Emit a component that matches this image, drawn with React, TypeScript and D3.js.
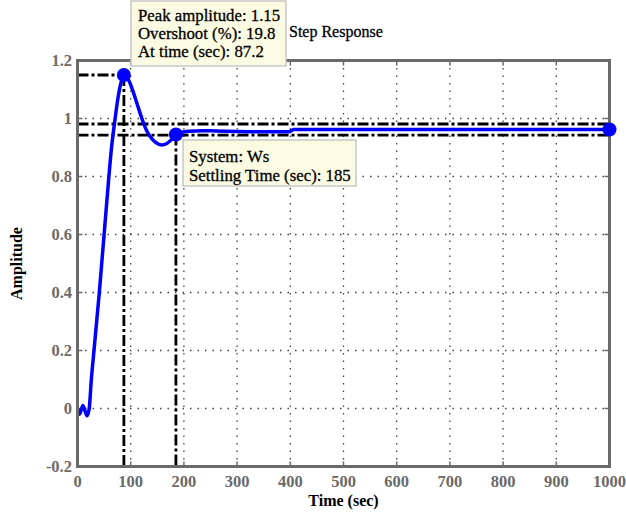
import React from "react";
import * as d3 from "d3";

const timeSec = [0, 4, 10, 18, 22, 26, 31, 36, 41, 45.5, 50, 54.5, 59, 64, 70, 76, 82, 87.2, 92, 98, 105, 113, 121, 130, 140, 150, 158, 168, 177, 185, 195, 210, 235, 260, 300, 350, 398, 406, 500, 600, 700, 800, 900, 1000];
const amplitude = [0, -0.02, 0.01, -0.025, 0.0, 0.1, 0.2, 0.3, 0.4, 0.5, 0.6, 0.7, 0.8, 0.9, 0.99, 1.07, 1.125, 1.15, 1.145, 1.125, 1.09, 1.045, 1.0, 0.958, 0.93, 0.914, 0.909, 0.914, 0.928, 0.945, 0.952, 0.956, 0.958, 0.957, 0.955, 0.954, 0.954, 0.962, 0.962, 0.962, 0.962, 0.962, 0.962, 0.962];

const xTicks = [0, 100, 200, 300, 400, 500, 600, 700, 800, 900, 1000];
const yTicks = [-0.2, 0, 0.2, 0.4, 0.6, 0.8, 1, 1.2];
const yTickLabels = ["-0.2", "0", "0.2", "0.4", "0.6", "0.8", "1", "1.2"];

const peak = { t: 87.2, v: 1.15, overshoot: 19.8 };
const settling = { t: 185, v: 0.945 };
const finalValue = 0.962;
const bandLow = 0.943;
const bandHigh = 0.981;

const peakLines = ["Peak amplitude: 1.15", "Overshoot (%): 19.8", "At time (sec): 87.2"];
const settleLines = ["System: Ws", "Settling Time (sec): 185"];

export default function App() {
  const W = 626, H = 514;
  const x = d3.scaleLinear().domain([0, 1000]).range([77.5, 609.5]);
  const y = d3.scaleLinear().domain([-0.2, 1.2]).range([466.5, 60.5]);
  const line = d3
    .line<number>()
    .x((_, i) => x(timeSec[i]))
    .y((d) => y(d))
    .curve(d3.curveMonotoneX);
  const font = "'Liberation Serif', 'Times New Roman', serif";
  const axisColor = "#6a6a6a";
  const gridDash = "1.5,6";
  const dashDot = "11,3,3,3";
  const [x0, x1] = x.range();
  const [y0, y1] = y.range();

  return (
    <svg
      width={W}
      height={H}
      style={{ position: "absolute", left: 0, top: 0, background: "#fff" }}
      fontFamily={font}
    >
      <rect x={0} y={0} width={W} height={H} fill="#fff" />
      {/* grid */}
      {xTicks.slice(1, -1).map((t) => (
        <line key={"gx" + t} x1={x(t)} x2={x(t)} y1={y1} y2={y0} stroke="#444" strokeWidth={1.3} strokeDasharray={gridDash} />
      ))}
      {yTicks.slice(1, -1).map((t) => (
        <line key={"gy" + t} x1={x0} x2={x1} y1={y(t)} y2={y(t)} stroke="#444" strokeWidth={1.3} strokeDasharray={gridDash} />
      ))}
      {/* ticks */}
      {xTicks.slice(1, -1).map((t) => (
        <g key={"tx" + t}>
          <line x1={x(t)} x2={x(t)} y1={y0} y2={y0 - 5} stroke={axisColor} strokeWidth={1.5} />
          <line x1={x(t)} x2={x(t)} y1={y1} y2={y1 + 5} stroke={axisColor} strokeWidth={1.5} />
        </g>
      ))}
      {yTicks.slice(1, -1).map((t) => (
        <g key={"ty" + t}>
          <line x1={x0} x2={x0 + 5} y1={y(t)} y2={y(t)} stroke={axisColor} strokeWidth={1.5} />
          <line x1={x1} x2={x1 - 5} y1={y(t)} y2={y(t)} stroke={axisColor} strokeWidth={1.5} />
        </g>
      ))}
      {/* characteristic lines */}
      <line x1={x0} x2={x(peak.t)} y1={y(peak.v)} y2={y(peak.v)} stroke="#000" strokeWidth={2.8} strokeDasharray={dashDot} />
      <line x1={x(peak.t)} x2={x(peak.t)} y1={y(peak.v)} y2={y0} stroke="#000" strokeWidth={2.8} strokeDasharray={dashDot} />
      <line x1={x(settling.t)} x2={x(settling.t)} y1={y(settling.v)} y2={y0} stroke="#000" strokeWidth={2.8} strokeDasharray={dashDot} />
      <line x1={x0} x2={x1} y1={y(bandHigh)} y2={y(bandHigh)} stroke="#000" strokeWidth={2.8} strokeDasharray={dashDot} />
      <line x1={x0} x2={x1} y1={y(bandLow)} y2={y(bandLow)} stroke="#000" strokeWidth={2.8} strokeDasharray={dashDot} />
      {/* response */}
      <path d={line(amplitude) || ""} fill="none" stroke="#0000ff" strokeWidth={3.5} strokeLinejoin="round" />
      {/* axis box */}
      <rect x={x0} y={y1} width={x1 - x0} height={y0 - y1} fill="none" stroke={axisColor} strokeWidth={3} />
      {/* markers */}
      <circle cx={x(peak.t)} cy={y(peak.v)} r={7} fill="#0000ff" />
      <circle cx={x(settling.t)} cy={y(settling.v)} r={7} fill="#0000ff" />
      <circle cx={x(1000)} cy={y(finalValue)} r={7} fill="#0000ff" />
      {/* tick labels */}
      {xTicks.map((t) => (
        <text key={"lx" + t} x={x(t)} y={487} textAnchor="middle" fontSize={16.5} fontWeight="bold" fill="#6a6a6a">
          {t}
        </text>
      ))}
      {yTicks.map((t, i) => (
        <text key={"ly" + t} x={72} y={y(t)} dy="0.35em" textAnchor="end" fontSize={16.5} fontWeight="bold" fill="#6a6a6a">
          {yTickLabels[i]}
        </text>
      ))}
      {/* titles */}
      <text x={289} y={37} fontSize={16} fill="#000" stroke="#000" strokeWidth={0.3}>Step Response</text>
      <text x={(x0 + x1) / 2} y={506} textAnchor="middle" fontSize={16} fontWeight="bold" fill="#000">Time (sec)</text>
      <text transform={`translate(22,${(y0 + y1) / 2}) rotate(-90)`} textAnchor="middle" fontSize={16} fontWeight="bold" fill="#000">Amplitude</text>
      {/* data tips */}
      <rect x={131} y={1} width={155} height={65} fill="#fbfbe4" stroke="#c8c8c8" strokeWidth={1.5} />
      {peakLines.map((s, i) => (
        <text key={"pl" + i} x={138} y={21 + i * 18} fontSize={16.8} fill="#000" stroke="#000" strokeWidth={0.3}>{s}</text>
      ))}
      <rect x={183} y={140} width={173} height={46} fill="#fbfbe4" stroke="#c8c8c8" strokeWidth={1.5} />
      {settleLines.map((s, i) => (
        <text key={"sl" + i} x={189} y={162 + i * 19} fontSize={16.8} fill="#000" stroke="#000" strokeWidth={0.3}>{s}</text>
      ))}
    </svg>
  );
}
